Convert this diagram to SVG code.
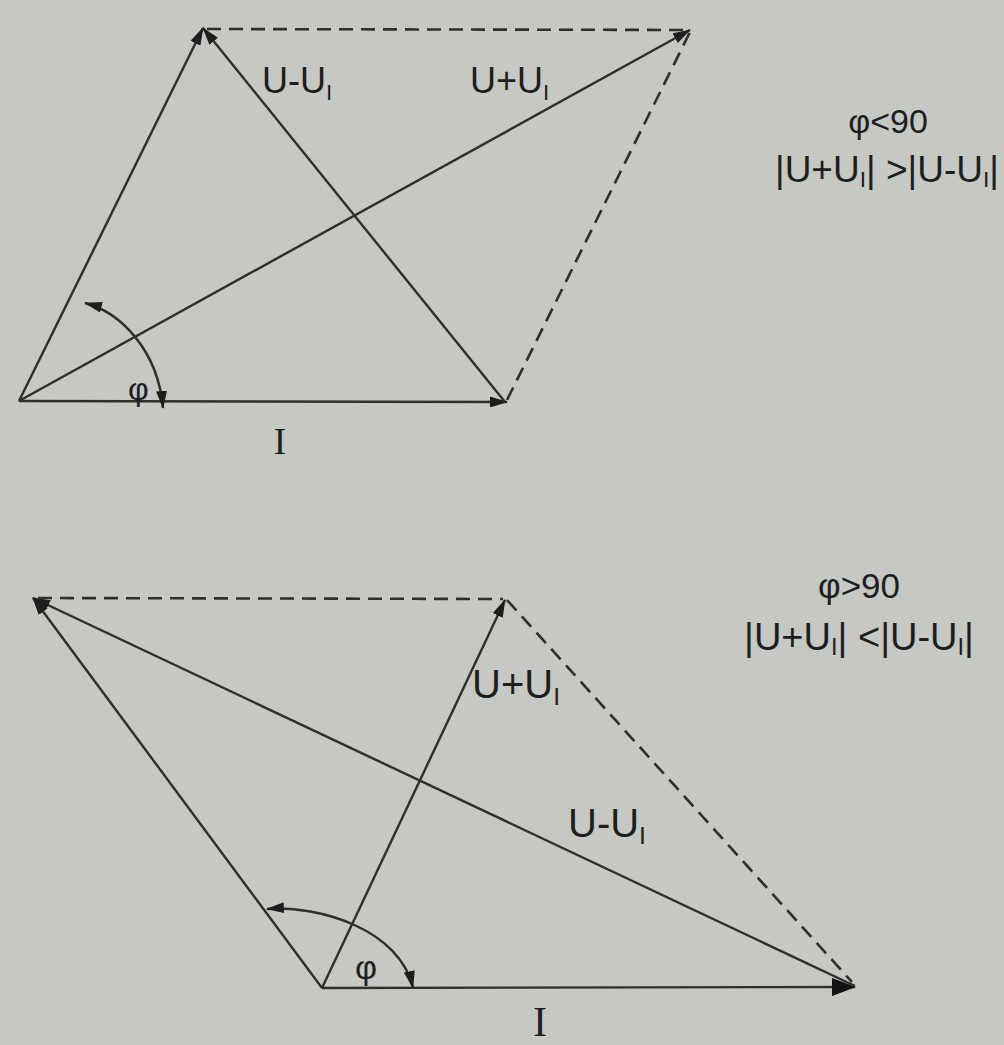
<svg xmlns="http://www.w3.org/2000/svg" width="1004" height="1045" viewBox="0 0 1004 1045">
<defs>
<style>
.v{stroke:#2e2e2e;stroke-width:2.4;fill:none}
.d{stroke:#2e2e2e;stroke-width:2.6;fill:none;stroke-dasharray:14 8}
.a{marker-end:url(#ah)}
.t{font-family:"Liberation Sans",Arial,sans-serif;fill:#1e1e1e}
.s{font-family:"Liberation Serif","Times New Roman",serif;fill:#1e1e1e}
.sub{font-size:0.62em}
</style>
<marker id="ah" viewBox="0 0 18 11" refX="17" refY="5.5" markerWidth="18" markerHeight="11" markerUnits="userSpaceOnUse" orient="auto">
<path d="M0,0 L18,5.5 L0,11 z" fill="#1e1e1e"/>
</marker>
<marker id="ahs" viewBox="0 0 18 11" refX="17" refY="5.5" markerWidth="18" markerHeight="11" markerUnits="userSpaceOnUse" orient="auto-start-reverse">
<path d="M0,0 L18,5.5 L0,11 z" fill="#1e1e1e"/>
</marker>
<marker id="ahb" viewBox="0 0 24 18" refX="23" refY="9" markerWidth="24" markerHeight="18" markerUnits="userSpaceOnUse" orient="auto">
<path d="M0,0 L24,9 L0,18 z" fill="#111"/>
</marker>
</defs>
<rect width="1004" height="1045" fill="#c6c8c3"/>

<g id="connectors">
<!-- top diagram -->
<line class="v a" x1="19" y1="401" x2="507" y2="402"/>
<line class="v a" x1="19" y1="401" x2="203" y2="28"/>
<line class="v a" x1="505" y1="402" x2="203" y2="28"/>
<line class="v a" x1="19" y1="401" x2="690" y2="30"/>
<line class="d" x1="207" y1="29" x2="688" y2="30"/>
<line class="d" x1="507" y1="400" x2="690" y2="32"/>
<path class="v" d="M85,303 C120,312 158,350 163,408" marker-start="url(#ahs)" marker-end="url(#ah)"/>
<!-- bottom diagram -->
<line class="v" x1="322" y1="988" x2="855" y2="987" marker-end="url(#ahb)"/>
<line class="v a" x1="322" y1="988" x2="33" y2="598"/>
<line class="v a" x1="855" y1="986" x2="33" y2="598"/>
<line class="v a" x1="322" y1="988" x2="505" y2="600"/>
<line class="d" x1="38" y1="598" x2="503" y2="599"/>
<line class="d" x1="507" y1="600" x2="852" y2="982"/>
<path class="v" d="M267,909 C320,905 400,930 413,988" marker-start="url(#ahs)" marker-end="url(#ah)"/>
</g>

<g id="top-labels">
<text class="t" x="262" y="93" font-size="36">U-U<tspan class="sub" dy="7">I</tspan></text>
<text class="t" x="470" y="93" font-size="36">U+U<tspan class="sub" dy="7">I</tspan></text>
<text class="t" x="128" y="400" font-size="32">φ</text>
<text class="s" x="280" y="454" font-size="37" text-anchor="middle">I</text>
<text class="t" x="888" y="133" font-size="34" text-anchor="middle">φ&lt;90</text>
<text class="t" x="887" y="182" font-size="37" text-anchor="middle">|U+U<tspan class="sub" dy="5">I</tspan><tspan dy="-5">| &gt;|U-U</tspan><tspan class="sub" dy="5">I</tspan><tspan dy="-5">|</tspan></text>
</g>

<g id="bottom-labels">
<text class="t" x="472" y="698" font-size="40">U+U<tspan class="sub" dy="7">I</tspan></text>
<text class="t" x="568" y="837" font-size="40">U-U<tspan class="sub" dy="7">I</tspan></text>
<text class="t" x="355" y="979" font-size="34">φ</text>
<text class="s" x="540" y="1036" font-size="42" text-anchor="middle">I</text>
<text class="t" x="859" y="598" font-size="35" text-anchor="middle">φ&gt;90</text>
<text class="t" x="859" y="650" font-size="38" text-anchor="middle">|U+U<tspan class="sub" dy="5">I</tspan><tspan dy="-5">| &lt;|U-U</tspan><tspan class="sub" dy="5">I</tspan><tspan dy="-5">|</tspan></text>
</g>
</svg>
